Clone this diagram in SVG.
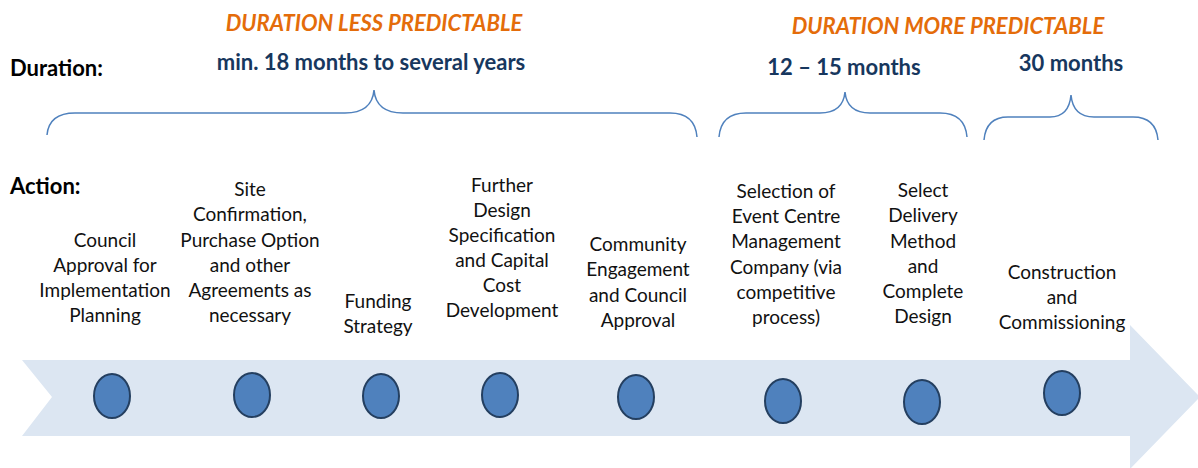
<svg xmlns="http://www.w3.org/2000/svg" width="1198" height="468" viewBox="0 0 1198 468">
<style>
.hdr{font-family:Lato,"Liberation Sans",sans-serif;font-weight:bold;font-style:italic;font-size:22px;fill:#E46C0A;text-anchor:middle}
.lbl{font-family:Lato,"Liberation Sans",sans-serif;font-weight:bold;font-size:22px;fill:#000}
.dur{font-family:Lato,"Liberation Sans",sans-serif;font-weight:bold;font-size:22px;fill:#17375E;text-anchor:middle}
.act{font-family:Lato,"Liberation Sans",sans-serif;font-size:19px;fill:#111;text-anchor:middle}
.brace{fill:none;stroke:#4F81BD;stroke-width:1.5}
.dot{fill:#4F81BD;stroke:#243F60;stroke-width:2}
</style>
<rect width="1198" height="468" fill="#fff"/>
<polygon points="22,360 1130,360 1130,325 1200,397 1130,469 1130,436 22,436 52,397" fill="#DCE6F2"/>
<text class="hdr" x="374" y="31">DURATION LESS PREDICTABLE</text>
<text class="hdr" x="948" y="34">DURATION MORE PREDICTABLE</text>
<text class="lbl" x="10" y="76">Duration:</text>
<text class="lbl" x="10" y="194">Action:</text>
<text class="dur" x="371" y="70">min. 18 months to several years</text>
<text class="dur" x="844" y="75">12 – 15 months</text>
<text class="dur" x="1071" y="71">30 months</text>
<g id="connectors">
<path class="brace" d="M47,135 Q49,113 75,113 L345,113 Q372,113 374,90 Q376,113 403,113 L670,113 Q695,113 697,137"/>
<path class="brace" d="M719,137 Q721,113 746,113 L820,113 Q843,113 845,92 Q847,113 870,113 L940,113 Q965,113 967,137"/>
<path class="brace" d="M984,140 Q986,117 1008,117 L1050,117 Q1069,117 1071,95 Q1073,117 1094,117 L1133,117 Q1156,117 1158,140"/>
</g>
<g id="n1"><ellipse class="dot" cx="112" cy="396" rx="18" ry="22"/><text class="act"><tspan x="105" y="247">Council</tspan><tspan x="105" y="272">Approval for</tspan><tspan x="105" y="297">Implementation</tspan><tspan x="105" y="322">Planning</tspan></text></g>
<g id="n2"><ellipse class="dot" cx="252" cy="395" rx="18" ry="22"/><text class="act"><tspan x="250" y="196">Site</tspan><tspan x="250" y="221">Confirmation,</tspan><tspan x="250" y="247">Purchase Option</tspan><tspan x="250" y="272">and other</tspan><tspan x="250" y="297">Agreements as</tspan><tspan x="250" y="322">necessary</tspan></text></g>
<g id="n3"><ellipse class="dot" cx="381" cy="396" rx="18" ry="22"/><text class="act"><tspan x="378" y="308">Funding</tspan><tspan x="378" y="333">Strategy</tspan></text></g>
<g id="n4"><ellipse class="dot" cx="500" cy="395" rx="18" ry="22"/><text class="act"><tspan x="502" y="192">Further</tspan><tspan x="502" y="217">Design</tspan><tspan x="502" y="242">Specification</tspan><tspan x="502" y="267">and Capital</tspan><tspan x="502" y="292">Cost</tspan><tspan x="502" y="317">Development</tspan></text></g>
<g id="n5"><ellipse class="dot" cx="636" cy="397" rx="18" ry="22"/><text class="act"><tspan x="638" y="251">Community</tspan><tspan x="638" y="276">Engagement</tspan><tspan x="638" y="302">and Council</tspan><tspan x="638" y="327">Approval</tspan></text></g>
<g id="n6"><ellipse class="dot" cx="783" cy="401" rx="18" ry="22"/><text class="act"><tspan x="786" y="198">Selection of</tspan><tspan x="786" y="223">Event Centre</tspan><tspan x="786" y="248">Management</tspan><tspan x="786" y="274">Company (via</tspan><tspan x="786" y="299">competitive</tspan><tspan x="786" y="324">process)</tspan></text></g>
<g id="n7"><ellipse class="dot" cx="922" cy="402" rx="18" ry="22"/><text class="act"><tspan x="923" y="197">Select</tspan><tspan x="923" y="222">Delivery</tspan><tspan x="923" y="248">Method</tspan><tspan x="923" y="273">and</tspan><tspan x="923" y="298">Complete</tspan><tspan x="923" y="323">Design</tspan></text></g>
<g id="n8"><ellipse class="dot" cx="1062" cy="393" rx="18" ry="22"/><text class="act"><tspan x="1062" y="279">Construction</tspan><tspan x="1062" y="304">and</tspan><tspan x="1062" y="329">Commissioning</tspan></text></g>
</svg>
